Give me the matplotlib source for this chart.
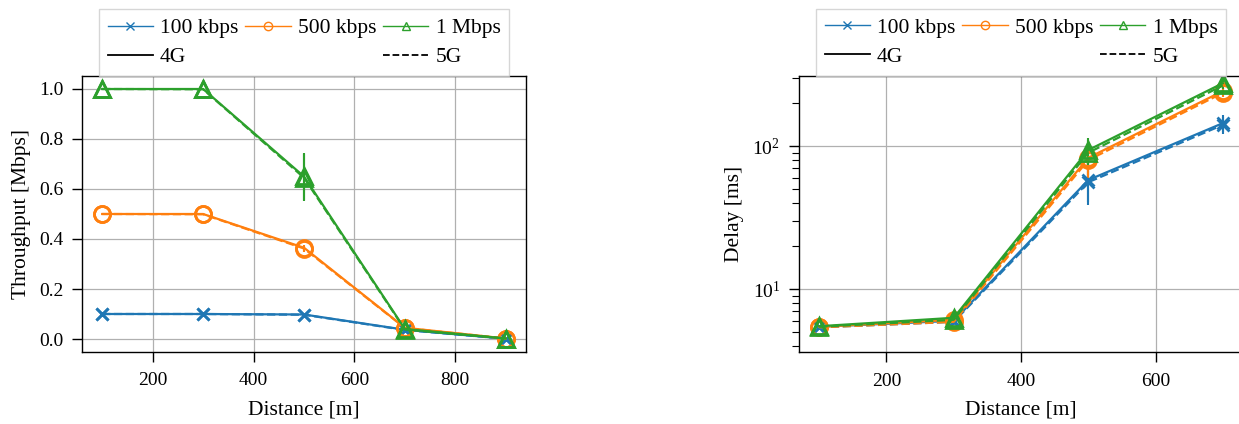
#!/usr/bin/env python3
"""
Throughput / delay vs. distance for 4G and 5G at three sending rates.
Output: out.png
"""

import matplotlib
matplotlib.use("Agg")
import matplotlib.pyplot as plt
from matplotlib.lines import Line2D

# === DATA ===
rates = ["100 kbps", "500 kbps", "1 Mbps"]
colors = ["tab:blue", "tab:orange", "tab:green"]
markers = ["x", "o", "^"]

# throughput [Mbps]
distance_tp = [100, 300, 500, 700, 900]
tp_4g = [
    [0.100, 0.100, 0.098, 0.037, 0.001],
    [0.500, 0.500, 0.365, 0.045, 0.002],
    [1.000, 1.000, 0.650, 0.040, 0.002],
]
tp_5g = [
    [0.100, 0.100, 0.097, 0.036, 0.001],
    [0.500, 0.499, 0.362, 0.044, 0.002],
    [1.000, 0.999, 0.645, 0.038, 0.002],
]
tp_err = [
    [0.001, 0.001, 0.004, 0.004, 0.001],
    [0.001, 0.001, 0.012, 0.005, 0.001],
    [0.001, 0.001, 0.095, 0.006, 0.001],
]

# delay [ms]
distance_dl = [100, 300, 500, 700]
dl_4g = [
    [5.45, 6.0, 58, 145],
    [5.45, 6.1, 83, 243],
    [5.50, 6.3, 94, 276],
]
dl_5g = [
    [5.40, 5.9, 56, 141],
    [5.40, 5.9, 80, 236],
    [5.45, 6.1, 90, 266],
]
dl_err = [
    [0.1, 0.2, 17, 20],
    [0.1, 0.2, 20, 15],
    [0.1, 0.3, 20, 14],
]

# === STYLE ===
plt.rcParams["font.family"] = ["Liberation Serif", "DejaVu Serif"]
plt.rcParams["mathtext.fontset"] = "stix"
plt.rcParams["axes.linewidth"] = 1.0
plt.rcParams["xtick.labelsize"] = 14
plt.rcParams["ytick.labelsize"] = 14
plt.rcParams["axes.labelsize"] = 15.5

W, H = 1239, 424


def draw_series(ax, x, vals_4g, vals_5g, errs):
    for i in range(len(rates)):
        msize = 9 if markers[i] == "x" else 11.5
        for vals, ls in ((vals_4g[i], "-"), (vals_5g[i], "--")):
            ax.errorbar(x, vals, yerr=errs[i], color=colors[i], ls=ls, lw=1.6,
                        marker=markers[i], ms=msize, mfc="none", mew=2,
                        elinewidth=1.5, capsize=0)


def add_legend(ax):
    h = [Line2D([], [], color=c, marker=m, ms=6, mfc="none", lw=1)
         for c, m in zip(colors, markers)]
    g4 = Line2D([], [], color="black", lw=1.3, ls="-")
    g5 = Line2D([], [], color="black", lw=1.3, ls="--")
    blank = Line2D([], [], ls="none")
    handles = [h[0], g4, h[1], blank, h[2], g5]
    labels = [rates[0], "4G", rates[1], "", rates[2], "5G"]
    ax.legend(handles, labels, ncol=3, loc="lower center", bbox_to_anchor=(0.5, 1.0),
              fontsize=15.5, frameon=True, fancybox=False, edgecolor="#cccccc",
              columnspacing=0.33, handlelength=2.1, handletextpad=0.33,
              borderpad=0.42, labelspacing=0.43, borderaxespad=0)


def style_axes(ax):
    ax.grid(True, color="#b0b0b0", lw=0.9)
    ax.set_axisbelow(True)
    ax.tick_params(which="major", direction="out", length=7, width=1)
    ax.tick_params(which="minor", direction="out", length=5, width=0.8)
    ax.tick_params(axis="x", which="major", pad=8)
    ax.tick_params(axis="y", which="major", pad=6.5)


def main():
    fig = plt.figure(figsize=(W / 100, H / 100), dpi=100)
    ax1 = fig.add_axes([82 / W, 1 - 351.5 / H, 444 / W, 275 / H])
    ax2 = fig.add_axes([799 / W, 1 - 352 / H, 444 / W, 276 / H])

    draw_series(ax1, distance_tp, tp_4g, tp_5g, tp_err)
    ax1.set_xlim(60, 940)
    ax1.set_ylim(-0.05, 1.05)
    ax1.set_xticks([200, 400, 600, 800])
    ax1.set_yticks([0.0, 0.2, 0.4, 0.6, 0.8, 1.0])
    ax1.set_xlabel("Distance [m]", labelpad=8)
    ax1.set_ylabel("Throughput [Mbps]", labelpad=6)
    style_axes(ax1)
    add_legend(ax1)

    draw_series(ax2, distance_dl, dl_4g, dl_5g, dl_err)
    ax2.set_yscale("log")
    ax2.set_xlim(70, 730)
    ax2.set_ylim(3.63, 310)
    ax2.set_xticks([200, 400, 600])
    ax2.set_xlabel("Distance [m]", labelpad=8)
    ax2.set_ylabel("Delay [ms]", labelpad=6)
    style_axes(ax2)
    ax2.grid(False, which="minor")
    add_legend(ax2)

    fig.savefig("out.png", dpi=100)
    plt.close(fig)


if __name__ == "__main__":
    main()
